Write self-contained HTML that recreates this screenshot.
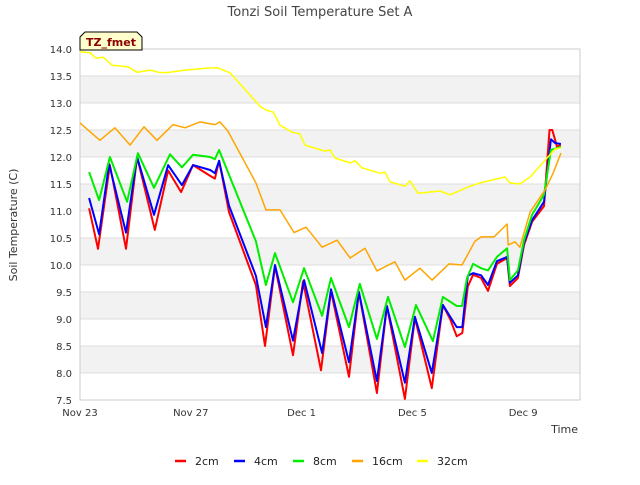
<!DOCTYPE html>
<html><head><meta charset="utf-8"><style>
body{margin:0;background:#fff;font-family:"Liberation Sans","DejaVu Sans",sans-serif}
svg text{font-family:"DejaVu Sans","Liberation Sans",sans-serif}
</style></head><body>
<svg id="chart" width="640" height="480" xmlns="http://www.w3.org/2000/svg">
<rect width="640" height="480" fill="#fff"/>
<text x="320" y="16" text-anchor="middle" font-size="13" fill="#444">Tonzi Soil Temperature Set A</text>
<g id="bands"></g><g id="grid"></g>
<rect x="80" y="49" width="500" height="351" fill="none" stroke="#ccc"/>
<g id="yticks"></g><g id="xticks"></g>
<text transform="translate(17,225) rotate(-90)" text-anchor="middle" font-size="11" fill="#333">Soil Temperature (C)</text>
<text x="578" y="433" text-anchor="end" font-size="11" fill="#333">Time</text>
<g id="series"></g>
<g>
<path d="M80,50 L80,37 L85,32 L137,32 L142,37 L142,50 Z" fill="#ffffcc" stroke="#000"/>
<text x="111" y="46" text-anchor="middle" font-size="11" font-weight="bold" fill="#8b0000">TZ_fmet</text>
</g>
<g id="legend"></g>
</svg>
<script>
const yTicks=[7.5,8,8.5,9,9.5,10,10.5,11,11.5,12,12.5,13,13.5,14];
const xTickLabels=["Nov 23","Nov 27","Dec 1","Dec 5","Dec 9"];
const xTickDays=[0,4,8,12,16];
const seriesNames=["2cm","4cm","8cm","16cm","32cm"];
const seriesColors=["#ff0000","#0000ff","#00ee00","#ffa500","#ffff00"];
const days2=[0.33,0.65,1.08,1.66,2.06,2.7,3.18,3.65,4.08,4.7,4.87,5.02,5.38,6.35,6.68,7.04,7.69,8.05,8.7,9.06,9.71,10.07,10.72,11.08,11.73,12.09,12.7,13.1,13.36,13.6,13.8,14.0,14.19,14.48,14.73,15.05,15.42,15.52,15.81,16.03,16.32,16.75,16.95,17.05,17.22,17.36];
const vals2=[11.05,10.3,11.85,10.3,12.0,10.65,11.75,11.35,11.85,11.65,11.6,11.93,10.98,9.63,8.5,9.98,8.33,9.7,8.05,9.52,7.93,9.5,7.63,9.24,7.52,9.02,7.72,9.26,9.0,8.68,8.74,9.6,9.82,9.76,9.52,10.02,10.13,9.61,9.76,10.37,10.8,11.09,12.5,12.5,12.19,12.22];
const days4=[0.33,0.69,1.05,1.66,2.06,2.67,3.18,3.68,4.08,4.7,4.87,5.02,5.38,6.35,6.71,7.04,7.69,8.09,8.74,9.06,9.71,10.07,10.72,11.08,11.73,12.09,12.7,13.1,13.6,13.8,14.0,14.19,14.48,14.73,15.05,15.42,15.52,15.81,16.03,16.32,16.75,17.0,17.15,17.36];
const vals4=[11.24,10.57,11.87,10.6,12.0,10.93,11.85,11.48,11.85,11.76,11.7,11.93,11.1,9.8,8.85,10.0,8.6,9.72,8.37,9.55,8.2,9.5,7.85,9.24,7.82,9.04,8.0,9.26,8.85,8.85,9.8,9.85,9.81,9.63,10.07,10.15,9.67,9.81,10.41,10.83,11.17,12.33,12.26,12.24];
const days8=[0.33,0.69,1.08,1.7,2.09,2.67,3.25,3.68,4.08,4.7,4.87,5.02,5.38,6.35,6.71,7.04,7.69,8.09,8.74,9.06,9.71,10.1,10.72,11.12,11.73,12.13,12.74,13.1,13.6,13.79,13.97,14.19,14.48,14.73,15.05,15.42,15.52,15.81,16.03,16.32,16.75,17.0,17.25,17.36];
const vals8=[11.72,11.2,12.0,11.17,12.07,11.43,12.05,11.81,12.04,12.0,11.96,12.13,11.67,10.44,9.63,10.22,9.31,9.94,9.06,9.76,8.85,9.65,8.63,9.41,8.48,9.26,8.59,9.41,9.24,9.24,9.76,10.02,9.94,9.9,10.15,10.31,9.72,9.9,10.46,10.93,11.3,12.13,12.17,12.19];
const days16=[0,0.72,1.26,1.81,2.31,2.78,3.36,3.79,4.33,4.87,5.05,5.34,6.35,6.71,7.22,7.73,8.16,8.74,9.28,9.75,10.29,10.72,11.37,11.73,12.27,12.71,13.32,13.79,14.26,14.48,14.95,15.42,15.46,15.7,15.88,16.25,16.79,17.08,17.36];
const vals16=[12.63,12.31,12.54,12.22,12.56,12.31,12.6,12.54,12.65,12.6,12.65,12.48,11.52,11.02,11.02,10.6,10.7,10.33,10.46,10.13,10.31,9.89,10.06,9.72,9.94,9.72,10.02,10.0,10.44,10.52,10.52,10.76,10.37,10.43,10.33,10.98,11.39,11.7,12.07];
const days32=[0,0.36,0.58,0.83,1.16,1.73,2.06,2.53,2.82,3.1,3.79,4.26,4.69,4.98,5.42,6.5,6.71,6.98,7.22,7.65,7.94,8.12,8.84,9.03,9.21,9.75,9.93,10.18,10.83,11.01,11.19,11.73,11.91,12.2,13.0,13.36,14.08,14.44,15.34,15.52,15.88,16.25,16.79,17.15,17.36];
const vals32=[13.95,13.93,13.83,13.85,13.7,13.67,13.57,13.61,13.57,13.56,13.61,13.63,13.65,13.65,13.56,12.94,12.87,12.83,12.59,12.46,12.43,12.22,12.11,12.13,11.98,11.89,11.93,11.8,11.7,11.72,11.54,11.46,11.56,11.33,11.37,11.3,11.46,11.52,11.63,11.52,11.5,11.63,11.94,12.15,12.17];
const allDays=[days2,days4,days8,days16,days32];
const allVals=[vals2,vals4,vals8,vals16,vals32];

const NS="http://www.w3.org/2000/svg";
const X0=80,X1=580,Y0=400,Y1=49,PXDAY=27.7;
function xs(d){return X0+d*PXDAY;}
function ys(v){return Y0-(v-7.5)*(Y0-Y1)/6.5;}
function mk(tag,parent){const e=document.createElementNS(NS,tag);document.getElementById(parent).appendChild(e);return e;}
for(let i=0;i<yTicks.length-1;i++){
  if(i%2===1){const r=mk('rect','bands');
  
  
  r.setAttribute('x',X0);r.setAttribute('width',X1-X0);
  r.setAttribute('y',ys(yTicks[i+1]));r.setAttribute('height',ys(yTicks[i])-ys(yTicks[i+1]));r.setAttribute('fill','#f2f2f2');}
}
yTicks.forEach(v=>{
  const l=mk('line','grid');
  
  
  l.setAttribute('x1',X0);l.setAttribute('x2',X1);l.setAttribute('y1',ys(v));l.setAttribute('y2',ys(v));l.setAttribute('stroke','#dddddd');
  const t=mk('text','yticks');
  
  
  t.setAttribute('x',72);t.setAttribute('y',ys(v)+4);t.setAttribute('text-anchor','end');t.setAttribute('font-size','10');t.setAttribute('fill','#333');
  t.textContent=v.toFixed(1);
});
xTickDays.forEach((d,i)=>{
  const t=mk('text','xticks');
  
  
  t.setAttribute('x',xs(d));t.setAttribute('y',416);t.setAttribute('text-anchor','middle');t.setAttribute('font-size','10');t.setAttribute('fill','#333');
  t.textContent=xTickLabels[i];
});
allDays.forEach((ds,k)=>{
  const p=mk('polyline','series');
  
  
  p.setAttribute('points',ds.map((d,i)=>xs(d).toFixed(1)+','+ys(allVals[k][i]).toFixed(1)).join(' '));
  p.setAttribute('fill','none');p.setAttribute('stroke',seriesColors[k]);p.setAttribute('stroke-width',k<3?'2':'1.5');p.setAttribute('stroke-linejoin','round');
});
const legX=[175,234,293,352,417];
seriesNames.forEach((n,k)=>{
  const l=mk('line','legend');
  
  
  l.setAttribute('x1',legX[k]);l.setAttribute('x2',legX[k]+11);l.setAttribute('y1',461);l.setAttribute('y2',461);l.setAttribute('stroke',seriesColors[k]);l.setAttribute('stroke-width','2.5');
  const t=mk('text','legend');
  
  
  t.setAttribute('x',legX[k]+20);t.setAttribute('y',465);t.setAttribute('font-size','11');t.setAttribute('fill','#222');
  t.textContent=n;
});
</script>
</body></html>
